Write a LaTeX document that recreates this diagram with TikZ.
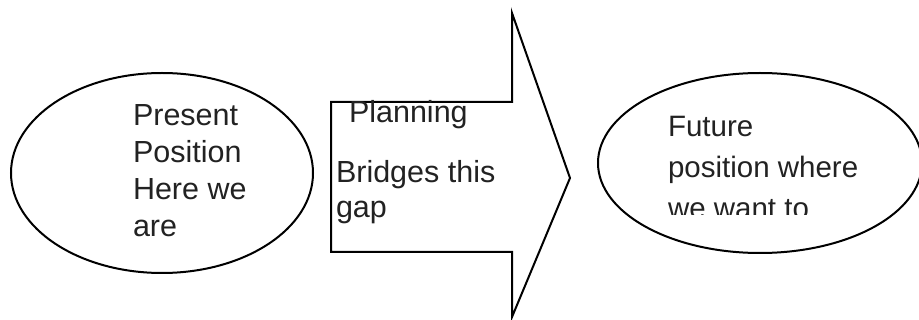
\documentclass[tikz,border=0pt]{standalone}
\usepackage{fontspec}
\setmainfont{Liberation Sans}
\usetikzlibrary{shapes.geometric}
\definecolor{txt}{HTML}{222222}
\begin{document}
\begin{tikzpicture}[x=1pt,y=-1pt,
  shapeline/.style={draw=black,line width=2pt},
  label/.style={inner sep=0pt,outer sep=0pt,anchor=base west,align=left,text=txt,
    font=\fontsize{30.5}{37}\selectfont}]
\useasboundingbox (0,0) rectangle (919,320);
\node[shapeline,ellipse,minimum width=302pt,minimum height=200pt,inner sep=0pt] (present) at (162,173) {};
\node[shapeline,ellipse,minimum width=324pt,minimum height=180pt,inner sep=0pt] (future) at (760,163) {};
\coordinate (a1) at (331,102);
\coordinate (a2) at (512,102);
\coordinate (a3) at (512,13);
\coordinate (tip) at (570,178);
\coordinate (a4) at (512,317);
\coordinate (a5) at (512,252);
\coordinate (a6) at (331,252);
\draw[shapeline,line join=miter] (a1) -- (a2) -- (a3) -- (tip) -- (a4) -- (a5) -- (a6) -- cycle;
% base anchor = baseline of the last line
\node[label] (ptext) at (133,237) {Present\\Position\\Here we\\are};
\node[label] (plan) at (349,123) {Planning};
\node[label,font=\fontsize{30.5}{35}\selectfont] (bridge) at (336,218) {Bridges this\\gap};
\begin{scope}
\clip (600,0) rectangle (919,215);
\node[label,font=\fontsize{29.5}{41}\selectfont] (ftext) at (668,219) {Future\\position where\\we want to};
\end{scope}
\end{tikzpicture}
\end{document}
